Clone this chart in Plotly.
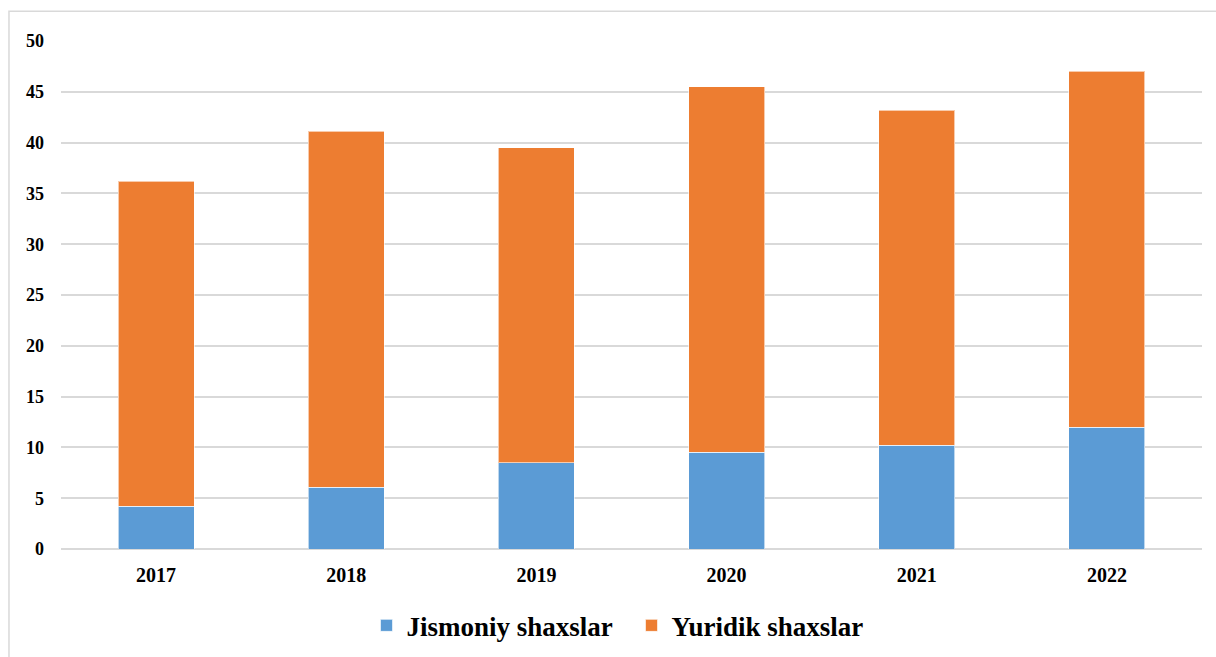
import plotly.graph_objects as go

years = ["2017", "2018", "2019", "2020", "2021", "2022"]
jismoniy = [4.2, 6.1, 8.5, 9.5, 10.2, 12.0]
yuridik = [32.0, 35.0, 31.0, 36.0, 33.0, 35.0]
y_ticks = [0, 5, 10, 15, 20, 25, 30, 35, 40, 45, 50]

font_family = "Liberation Serif"

fig = go.Figure()
fig.add_trace(go.Bar(
    x=years, y=jismoniy, name="Jismoniy shaxslar",
    marker=dict(color="#5B9BD5", line=dict(color="rgba(255,255,255,0.6)", width=1)),
))
fig.add_trace(go.Bar(
    x=years, y=yuridik, name="Yuridik shaxslar",
    marker=dict(color="#ED7D31", line=dict(color="rgba(255,255,255,0.6)", width=1)),
))

fig.update_layout(
    barmode="stack",
    bargap=0.6,
    width=1216, height=657,
    margin=dict(l=61, r=14, t=41, b=108, autoexpand=False),
    paper_bgcolor="white",
    plot_bgcolor="white",
    font=dict(family=font_family, color="black"),
    legend=dict(
        orientation="h", x=0.5, xanchor="center", y=-0.103, yanchor="top",
        font=dict(family=font_family, size=27, color="black", weight="bold"),
        itemwidth=30, traceorder="normal",
        entrywidth=220, entrywidthmode="pixels",
    ),
    xaxis=dict(
        showgrid=False, showline=False, ticks="", automargin=False,
        tickfont=dict(family=font_family, size=20, color="black", weight="bold"),
        ticklabelstandoff=12,
    ),
    yaxis=dict(
        range=[0, 50], tickvals=y_ticks, automargin=False,
        showgrid=True, gridcolor="#D9D9D9", gridwidth=1.5,
        zeroline=True, zerolinecolor="#D9D9D9", zerolinewidth=1.5,
        showline=False, ticks="",
        tickfont=dict(family=font_family, size=18, color="black", weight="bold"),
        ticklabelstandoff=16,
    ),
    shapes=[dict(
        type="rect", xref="paper", yref="paper",
        x0=-0.0456, x1=1.02, y0=-0.23, y1=1.0584,
        line=dict(color="#D9D9D9", width=1.5), fillcolor="rgba(0,0,0,0)",
        layer="below",
    )],
)

fig.write_html(
    "out.html",
    config={"displayModeBar": False},
    post_script="document.body.style.margin='0';document.body.style.overflow='hidden';",
)
